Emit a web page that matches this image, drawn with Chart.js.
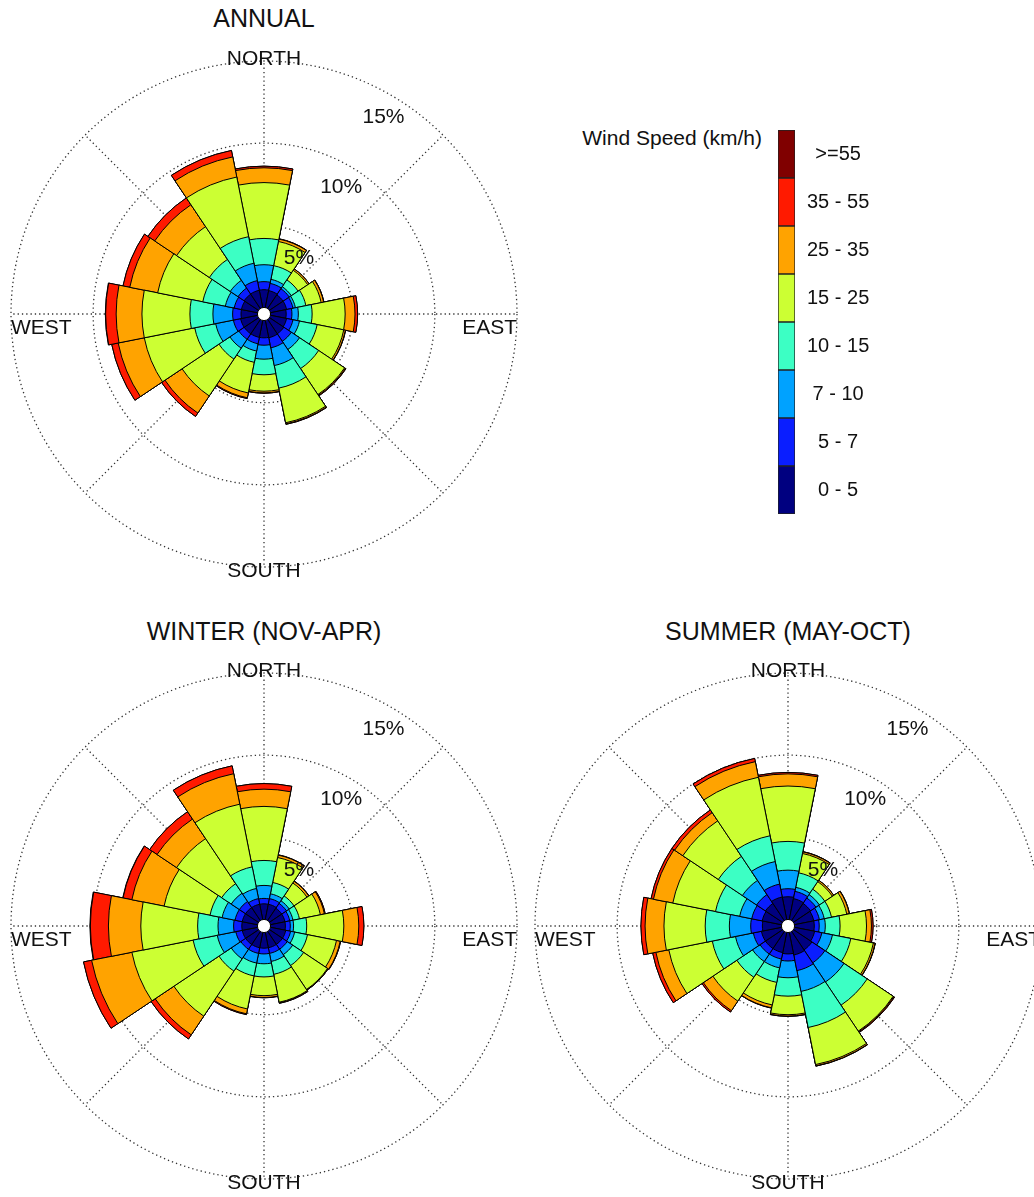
<!DOCTYPE html>
<html>
<head>
<meta charset="utf-8">
<script src="https://cdn.jsdelivr.net/npm/chart.js@4.4.1/dist/chart.umd.min.js"></script>
<style>
  body { margin: 0; width: 1034px; height: 1197px; position: relative; overflow: hidden; background: #fff;
         font-family: "Liberation Sans", Arial, sans-serif; color: #111; }
  canvas { position: absolute; }
  .titulo { position: absolute; width: 400px; text-align: center; font-size: 25px; line-height: 30px; }
  .legenda { position: absolute; right: 272px; top: 126px; font-size: 21px; line-height: 24px; }
</style>
</head>
<body>
<div class="titulo" style="left:64px; top:3px;">ANNUAL</div>
<div class="titulo" style="left:64px; top:616px;">WINTER (NOV-APR)</div>
<div class="titulo" style="left:588px; top:616px;">SUMMER (MAY-OCT)</div>
<div class="legenda">Wind Speed (km/h)</div>

<canvas id="rosaAnual" width="560" height="560" style="left:-16px; top:34px;"></canvas>
<canvas id="rosaInverno" width="560" height="560" style="left:-16px; top:646px;"></canvas>
<canvas id="rosaVerao" width="560" height="560" style="left:508px; top:646px;"></canvas>
<canvas id="barraCores" width="97" height="384" style="left:778px; top:130px;"></canvas>

<script>
const direcoes = ['N','NNE','NE','ENE','E','ESE','SE','SSE','S','SSW','SW','WSW','W','WNW','NW','NNW'];
const faixas = ['0 - 5','5 - 7','7 - 10','10 - 15','15 - 25','25 - 35','35 - 55','>=55'];
const ticksPct = [5, 10, 15];

// frequencia acumulada (%) por direcao, ate o limite de cada faixa de velocidade
const anual = [
  [1.08, 1.57, 2.60, 4.20, 7.60, 8.50, 8.60, 8.60],
  [1.05, 1.50, 1.75, 2.60, 4.10, 4.25, 4.27, 4.27],
  [1.00, 1.45, 1.60, 2.10, 2.80, 2.90, 2.90, 2.90],
  [1.00, 1.40, 1.55, 2.20, 3.15, 3.30, 3.32, 3.32],
  [0.95, 1.30, 1.69, 2.53, 4.54, 5.14, 5.30, 5.30],
  [1.00, 1.40, 1.80, 2.90, 4.55, 4.65, 4.67, 4.67],
  [1.05, 1.60, 2.20, 3.60, 5.50, 5.56, 5.60, 5.60],
  [1.07, 1.70, 2.80, 4.20, 6.35, 6.42, 6.45, 6.45],
  [1.05, 1.50, 2.35, 3.30, 4.30, 4.40, 4.42, 4.42],
  [1.05, 1.45, 1.90, 2.60, 4.50, 4.80, 4.85, 4.85],
  [1.05, 1.45, 2.10, 2.90, 5.60, 6.85, 7.10, 7.10],
  [1.05, 1.50, 2.60, 3.90, 7.03, 8.65, 9.05, 9.05],
  [1.00, 1.51, 2.71, 4.11, 7.03, 8.60, 9.24, 9.26],
  [1.00, 1.45, 2.00, 3.40, 6.20, 7.93, 8.35, 8.35],
  [1.05, 1.50, 2.07, 3.60, 6.00, 7.60, 8.10, 8.10],
  [1.07, 1.67, 2.75, 4.40, 8.10, 9.35, 9.75, 9.75]
];

const inverno = [
  [0.95, 1.28, 2.07, 3.59, 6.88, 7.93, 8.27, 8.27],
  [0.95, 1.30, 1.60, 2.30, 3.85, 4.00, 4.02, 4.02],
  [0.90, 1.25, 1.45, 1.80, 2.75, 2.88, 2.90, 2.90],
  [0.90, 1.20, 1.40, 1.80, 3.10, 3.35, 3.40, 3.40],
  [0.90, 1.20, 1.40, 2.20, 4.46, 5.37, 5.68, 5.68],
  [0.95, 1.25, 1.50, 2.30, 4.10, 4.33, 4.36, 4.36],
  [0.95, 1.30, 1.70, 2.50, 4.25, 4.28, 4.30, 4.30],
  [0.95, 1.30, 1.80, 2.60, 4.33, 4.37, 4.40, 4.40],
  [0.95, 1.30, 1.90, 2.70, 3.84, 3.95, 3.97, 3.97],
  [0.95, 1.30, 1.90, 2.70, 4.75, 5.05, 5.10, 5.10],
  [0.95, 1.30, 2.00, 2.90, 6.20, 7.57, 7.87, 7.87],
  [0.95, 1.35, 2.50, 4.00, 7.80, 10.30, 10.80, 10.80],
  [0.95, 1.45, 2.40, 3.64, 7.10, 9.07, 10.17, 10.20],
  [0.95, 1.40, 2.20, 2.95, 5.80, 7.80, 8.35, 8.37],
  [0.95, 1.40, 2.00, 2.70, 6.00, 7.43, 7.97, 7.97],
  [0.95, 1.30, 1.93, 3.27, 7.16, 9.05, 9.54, 9.54]
];

const verao = [
  [1.38, 1.87, 3.00, 4.75, 8.12, 8.86, 8.95, 8.95],
  [1.30, 1.75, 2.00, 2.90, 4.10, 4.20, 4.22, 4.22],
  [1.25, 1.65, 1.90, 2.30, 2.85, 2.95, 2.95, 2.95],
  [1.20, 1.55, 1.85, 2.30, 3.25, 3.40, 3.42, 3.42],
  [1.20, 1.50, 1.87, 2.77, 4.38, 4.68, 4.78, 4.78],
  [1.25, 1.70, 2.36, 3.50, 4.90, 5.00, 5.02, 5.02],
  [1.35, 2.30, 3.70, 5.40, 7.30, 7.35, 7.40, 7.40],
  [1.40, 2.37, 3.66, 5.90, 8.20, 8.28, 8.30, 8.30],
  [1.30, 1.73, 2.75, 3.87, 5.00, 5.08, 5.10, 5.10],
  [1.25, 1.65, 2.20, 3.10, 4.50, 4.68, 4.70, 4.70],
  [1.25, 1.65, 2.20, 3.35, 5.10, 5.80, 5.90, 5.90],
  [1.25, 1.75, 2.86, 4.30, 7.00, 7.80, 8.00, 8.00],
  [1.16, 1.87, 3.17, 4.64, 7.15, 8.30, 8.55, 8.55],
  [1.20, 1.85, 2.60, 4.10, 6.75, 7.95, 8.10, 8.10],
  [1.25, 1.90, 2.94, 4.70, 7.30, 7.90, 8.10, 8.10],
  [1.40, 2.20, 3.60, 5.20, 8.83, 9.80, 10.00, 10.00]
];

const cores = ['#000080', '#0a1eff', '#00a2ff', '#3cffc4', '#ccff33', '#ffa300', '#ff1a00', '#800000'];
const fonte = '"Liberation Sans", Arial, sans-serif';

// 32 divisoes no eixo so para posicionar as linhas radiais a cada 45 graus
const divisoes = Array.from({ length: 32 }, (_, i) => i);

const rotulosRosa = {
  id: 'rotulosRosa',
  afterDatasetsDraw(chart) {
    const s = chart.scales.r;
    const ctx = chart.ctx;
    const cx = s.xCenter, cy = s.yCenter, R = s.drawingArea;
    ctx.save();
    ctx.beginPath();
    ctx.arc(cx, cy, s.getDistanceFromCenterForValue(0), 0, Math.PI * 2);
    ctx.fillStyle = '#fff';
    ctx.fill();
    ctx.lineWidth = 1;
    ctx.strokeStyle = '#000';
    ctx.stroke();

    ctx.font = '21px ' + fonte;
    ctx.fillStyle = '#111';
    ctx.textBaseline = 'middle';
    ctx.textAlign = 'center';
    ctx.fillText('NORTH', cx, cy - R - 2);
    ctx.fillText('SOUTH', cx, cy + R + 4);
    ctx.textAlign = 'left';
    ctx.fillText('WEST', cx - R, cy + 14);
    ctx.textAlign = 'right';
    ctx.fillText('EAST', cx + R, cy + 14);

    ctx.textAlign = 'center';
    const ang = 31 * Math.PI / 180;
    ticksPct.forEach(v => {
      const d = s.getDistanceFromCenterForValue(v) - 21;
      ctx.fillText(v + '%', cx + d * Math.sin(ang), cy - d * Math.cos(ang) + 2);
    });
    ctx.restore();
  }
};

function montarRosa(idCanvas, acumulado) {
  const datasets = faixas.map((faixa, k) => ({
    label: faixa,
    data: acumulado.map(linha => linha[k]),
    backgroundColor: cores[k],
    borderColor: '#000',
    borderWidth: 1
  }));

  new Chart(document.getElementById(idCanvas), {
    type: 'polarArea',
    data: { labels: direcoes, datasets: datasets },
    options: {
      responsive: false,
      animation: false,
      layout: { padding: 27 },
      plugins: { legend: { display: false }, tooltip: { enabled: false } },
      scales: {
        r: {
          min: -0.4,
          max: 15,
          startAngle: -11.25,
          labels: divisoes,
          afterBuildTicks: s => { s.ticks = ticksPct.map(v => ({ value: v })); },
          ticks: { display: false },
          pointLabels: { display: false },
          grid: { circular: true, color: '#333', lineWidth: 1.3 },
          border: { dash: [1.3, 3] },
          angleLines: {
            display: true,
            color: ctx => (ctx.index % 4 === 1 ? '#333' : 'transparent'),
            lineWidth: 1.3,
            borderDash: [1.3, 3]
          }
        }
      }
    },
    plugins: [rotulosRosa]
  });
}

montarRosa('rosaAnual', anual);
montarRosa('rosaInverno', inverno);
montarRosa('rosaVerao', verao);

// barra de cores da legenda
new Chart(document.getElementById('barraCores'), {
  type: 'bar',
  data: {
    labels: [''],
    datasets: faixas.map((faixa, k) => ({
      label: faixa,
      data: [1],
      backgroundColor: cores[k],
      borderColor: '#222',
      borderWidth: 1,
      borderSkipped: false,
      barPercentage: 1,
      categoryPercentage: 1
    }))
  },
  options: {
    responsive: false,
    animation: false,
    layout: { padding: 0 },
    plugins: { legend: { display: false }, tooltip: { enabled: false } },
    scales: {
      x: { stacked: true, display: false },
      y: {
        stacked: true,
        min: 0,
        max: faixas.length,
        position: 'right',
        afterBuildTicks: s => { s.ticks = faixas.map((f, k) => ({ value: k + 0.5 })); },
        afterFit: s => { s.width = 80; s.paddingTop = 0; s.paddingBottom = 0; },
        grid: { display: false, drawTicks: false },
        border: { display: false },
        ticks: {
          autoSkip: false,
          crossAlign: 'center',
          padding: 12,
          color: '#111',
          font: { size: 20, family: fonte },
          callback: v => faixas[Math.floor(v)]
        }
      }
    }
  }
});
</script>
</body>
</html>
